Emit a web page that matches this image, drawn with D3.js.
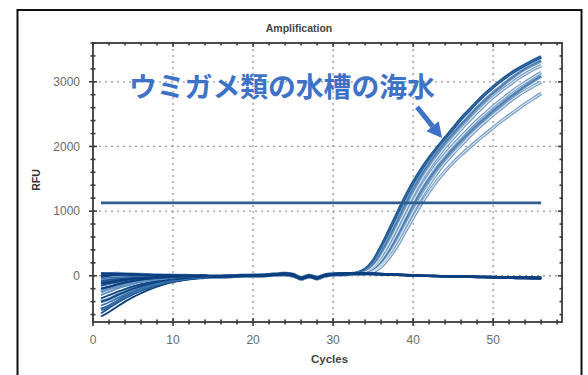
<!DOCTYPE html>
<html><head><meta charset="utf-8">
<script src="https://cdn.jsdelivr.net/npm/d3@7"></script>
<style>
html,body{margin:0;padding:0;background:#fff;}
svg{display:block;}
</style></head>
<body>
<svg id="chart" width="588" height="375"></svg>
<script>
// ---------- DATA ----------
const title = "Amplification";
const xLabel = "Cycles";
const yLabel = "RFU";
const annotation = "ウミガメ類の水槽の海水";
const xTicks = [0, 10, 20, 30, 40, 50];
const yTicks = [0, 1000, 2000, 3000];
const threshold = 1128;
const thresholdCycles = [1, 56];

const earlyCycles = [1,2,3,4,5,6,7,8,9,10,11,12,13,14];
const midCycles = [15,16,17,18,19,20,21,22,23,24,25,26,27,28,29,30];
const lateCycles = [31,32,33,34,35,36,37,38,39,40,41,42,43,44,45,46,47,48,49,50,51,52,53,54,55,56];

// RFU for cycles 1-14, one array per well
const earlyWells = [
  [-630,-560,-480,-400,-330,-270,-215,-170,-130,-100,-75,-55,-40,-28],
  [-580,-500,-420,-350,-285,-230,-185,-145,-112,-85,-63,-46,-33,-22],
  [-520,-470,-400,-330,-270,-215,-170,-135,-105,-80,-60,-44,-32,-22],
  [-460,-410,-350,-290,-235,-190,-150,-118,-92,-70,-52,-38,-27,-18],
  [-400,-360,-300,-250,-200,-160,-125,-98,-76,-58,-44,-32,-23,-15],
  [-350,-300,-250,-205,-165,-130,-102,-80,-62,-48,-36,-26,-18,-12],
  [-300,-250,-200,-160,-128,-100,-78,-60,-46,-35,-26,-19,-13,-8],
  [-250,-200,-160,-125,-98,-76,-58,-44,-33,-25,-18,-12,-8,-5],
  [-200,-170,-135,-105,-80,-60,-45,-34,-25,-18,-13,-9,-6,-3],
  [-150,-120,-95,-72,-55,-42,-31,-23,-17,-12,-8,-5,-3,-1],
  [-110,-95,-75,-58,-44,-33,-25,-18,-13,-9,-6,-4,-2,0],
  [-80,-65,-50,-38,-28,-20,-14,-10,-7,-5,-3,-2,-1,0],
  [-40,-30,-22,-16,-12,-9,-7,-5,-4,-3,-2,-1,0,0],
  [40,35,30,26,22,18,14,11,8,6,4,3,2,1],
  [20,30,35,30,25,20,16,12,9,7,5,3,2,1],
  [-10,5,15,18,15,12,9,7,5,3,2,1,0,0]
];

// RFU for cycles 15-30 (three baseline variants)
const midA = [-10,-8,-5,-3,0,2,6,12,22,28,10,-50,-8,-45,5,25];
const midB = [-5,-2,0,3,5,8,12,18,28,35,20,-30,5,-25,15,30];
const midC = [-20,-15,-12,-8,-5,-3,0,6,15,20,0,-40,-15,-35,-2,15];

// RFU for cycles 31-56, non-amplifying wells
const flatA = [30,35,38,35,30,25,20,15,10,5,0,-3,-6,-9,-12,-14,-16,-18,-20,-22,-24,-26,-28,-30,-32,-34];
const flatB = [35,40,42,40,35,30,25,20,15,10,5,2,-1,-4,-7,-9,-11,-13,-15,-17,-19,-21,-23,-25,-27,-28];
const flatC = [20,25,28,26,22,18,14,10,6,2,-2,-6,-9,-12,-15,-18,-20,-23,-26,-29,-32,-35,-38,-40,-42,-45];

// RFU for cycles 31-56, amplifying wells
const ampA = [25,30,45,100,230,450,700,960,1210,1440,1640,1820,1980,2130,2280,2430,2560,2690,2810,2920,3020,3110,3190,3260,3325,3385];
const ampB = [25,28,35,70,170,360,590,840,1100,1340,1550,1740,1910,2060,2200,2340,2470,2600,2720,2830,2930,3030,3120,3200,3265,3323];
const ampC = [22,26,30,55,140,300,510,750,1000,1250,1470,1660,1830,1990,2130,2270,2400,2530,2650,2760,2860,2950,3040,3120,3190,3250];
const ampD = [22,25,28,45,110,240,430,660,910,1150,1370,1560,1730,1880,2020,2150,2280,2400,2510,2620,2720,2820,2910,2990,3070,3144];
const ampE = [20,24,28,40,95,210,390,610,850,1090,1310,1500,1670,1820,1960,2090,2210,2330,2440,2550,2650,2750,2840,2930,3010,3087];
const ampF = [20,22,26,30,75,170,330,530,760,990,1210,1410,1590,1750,1890,2020,2150,2270,2380,2490,2590,2690,2780,2860,2930,2998];
const ampG = [18,22,25,25,60,140,280,460,680,900,1110,1300,1470,1620,1750,1870,1980,2090,2190,2290,2390,2480,2570,2660,2740,2819];

const mids = [midA, midB, midC];
const flats = [flatA, flatB, flatC];
// well index -> amplification tail (others stay flat)
const ampWells = {2: ampA, 4: ampB, 7: ampC, 9: ampD, 11: ampE, 12: ampF, 14: ampG};

// ---------- LAYOUT ----------
const svg = d3.select("#chart");
const m = {left: 93, right: 562, top: 43, bottom: 322};

const x = d3.scaleLinear().domain([0, 58.6]).range([m.left, m.right]);
const y = d3.scaleLinear().domain([-715, 3600]).range([m.bottom, m.top]);

// outer frame
svg.append("rect").attr("x", 17.5).attr("y", 10).attr("width", 564).attr("height", 380)
  .attr("fill", "none").attr("stroke", "#111").attr("stroke-width", 2);

// gridlines
const grid = svg.append("g").attr("stroke", "#9a9a9a").attr("stroke-width", 1.3)
  .attr("stroke-dasharray", "2,4");
xTicks.filter(t => t > 0).forEach(t => {
  grid.append("line").attr("x1", x(t)).attr("x2", x(t)).attr("y1", m.top).attr("y2", m.bottom);
});
yTicks.forEach(t => {
  grid.append("line").attr("x1", m.left).attr("x2", m.right).attr("y1", y(t)).attr("y2", y(t));
});

// build wells
const wells = earlyWells.map((early, i) => {
  const mid = mids[i % 3];
  const late = ampWells[i] || flats[i % 3];
  const pts = [];
  earlyCycles.forEach((c, k) => pts.push([c, early[k]]));
  midCycles.forEach((c, k) => pts.push([c, mid[k]]));
  lateCycles.forEach((c, k) => pts.push([c, late[k]]));
  return {amp: !!ampWells[i], pts};
});

const line = d3.line().x(d => x(d[0])).y(d => y(d[1])).curve(d3.curveCatmullRom.alpha(0.5));

svg.append("clipPath").attr("id", "pc").append("rect")
  .attr("x", m.left).attr("y", m.top).attr("width", m.right - m.left).attr("height", m.bottom - m.top);
const plot = svg.append("g").attr("clip-path", "url(#pc)");

// amplifying wells: outlined look (blue edge, pale core)
const ampW = wells.filter(w => w.amp);
ampW.forEach((w, i) => {
  plot.append("path").attr("d", line(w.pts)).attr("fill", "none")
    .attr("stroke", i === 0 ? "#1d5590" : "#6f98c2").attr("stroke-width", 3.4);
});
ampW.forEach((w, i) => {
  plot.append("path").attr("d", line(w.pts)).attr("fill", "none")
    .attr("stroke", i === 0 ? "#2f67a3" : (i % 3 === 1 ? "#4a7cae" : "#d3e1ee"))
    .attr("stroke-width", 1.3);
});

// baseline (non-amplifying) wells
const baseColors = ["#0c3f7e", "#1b5593", "#3a72ad", "#0e4482", "#5d8fc0"];
wells.filter(w => !w.amp).forEach((w, i) => {
  plot.append("path").attr("d", line(w.pts)).attr("fill", "none")
    .attr("stroke", baseColors[i % 5]).attr("stroke-width", 1.8);
});
// amplifying wells' early parts drawn like the baseline
ampW.forEach((w, i) => {
  plot.append("path").attr("d", line(w.pts.filter(p => p[0] <= 33))).attr("fill", "none")
    .attr("stroke", baseColors[(i + 2) % 5]).attr("stroke-width", 1.6);
});
// dense band near zero
wells.filter(w => !w.amp).slice(-4).forEach(w => {
  plot.append("path").attr("d", line(w.pts)).attr("fill", "none")
    .attr("stroke", "#0d3f7e").attr("stroke-width", 2);
});

// threshold line
plot.append("line")
  .attr("x1", x(thresholdCycles[0])).attr("x2", x(thresholdCycles[1]))
  .attr("y1", y(threshold)).attr("y2", y(threshold))
  .attr("stroke", "#2f5e8e").attr("stroke-width", 2.6);

// axes frame
svg.append("rect").attr("x", m.left).attr("y", m.top)
  .attr("width", m.right - m.left).attr("height", m.bottom - m.top)
  .attr("fill", "none").attr("stroke", "#3a3a3a").attr("stroke-width", 1.8);

// ticks
const tk = svg.append("g").attr("stroke", "#3a3a3a").attr("stroke-width", 1.6);
d3.range(0, 58.6, 2).forEach(c => {
  const major = c % 10 === 0;
  const len = major ? 4 : 2.5;
  tk.append("line").attr("x1", x(c)).attr("x2", x(c)).attr("y1", m.bottom - len).attr("y2", m.bottom + len);
  tk.append("line").attr("x1", x(c)).attr("x2", x(c)).attr("y1", m.top - 1).attr("y2", m.top + len);
});
d3.range(-600, 3601, 200).forEach(v => {
  const major = v % 1000 === 0;
  const len = major ? 4 : 2.5;
  tk.append("line").attr("x1", m.left - len).attr("x2", m.left + len).attr("y1", y(v)).attr("y2", y(v));
  tk.append("line").attr("x1", m.right - len).attr("x2", m.right + 1).attr("y1", y(v)).attr("y2", y(v));
});

// tick labels
const fontUI = "Arial, 'Liberation Sans', sans-serif";
svg.append("g").selectAll("text").data(xTicks).join("text")
  .attr("x", d => x(d)).attr("y", 344).attr("text-anchor", "middle")
  .attr("font-family", fontUI).attr("font-size", 12).attr("fill", "#6a6a6a").text(d => d);
svg.append("g").selectAll("text").data(yTicks).join("text")
  .attr("x", 80).attr("y", d => y(d) + 4.3).attr("text-anchor", "end")
  .attr("font-family", fontUI).attr("font-size", 12).attr("fill", "#6a6a6a").text(d => d);

// titles
svg.append("text").attr("x", 299).attr("y", 32).attr("text-anchor", "middle")
  .attr("font-family", fontUI).attr("font-size", 10.5).attr("font-weight", "bold")
  .attr("fill", "#444").text(title);
svg.append("text").attr("x", (m.left + m.right) / 2 + 2).attr("y", 363).attr("text-anchor", "middle")
  .attr("font-family", fontUI).attr("font-size", 11.5).attr("font-weight", "bold")
  .attr("fill", "#444").text(xLabel);
svg.append("text").attr("transform", "translate(40,180) rotate(-90)").attr("text-anchor", "middle")
  .attr("font-family", fontUI).attr("font-size", 10.5).attr("font-weight", "bold")
  .attr("fill", "#333").text(yLabel);

// annotation
const blue = "#3d72c6";
svg.append("text").attr("x", 129).attr("y", 97)
  .attr("font-family", "'Noto Sans CJK JP', sans-serif").attr("font-size", 27.8).attr("font-weight", "bold")
  .attr("fill", blue).text(annotation);
// arrow
const ax0 = 417, ay0 = 107, ax1 = 442, ay1 = 138;
const ang = Math.atan2(ay1 - ay0, ax1 - ax0);
const headLen = 15, headW = 8;
const bx = ax1 - headLen * Math.cos(ang), by = ay1 - headLen * Math.sin(ang);
svg.append("line").attr("x1", ax0).attr("y1", ay0).attr("x2", bx).attr("y2", by)
  .attr("stroke", blue).attr("stroke-width", 5);
svg.append("path").attr("fill", blue).attr("d",
  `M${ax1},${ay1} L${bx + headW * Math.sin(ang)},${by - headW * Math.cos(ang)} L${bx - headW * Math.sin(ang)},${by + headW * Math.cos(ang)} Z`);
</script>
</body></html>
